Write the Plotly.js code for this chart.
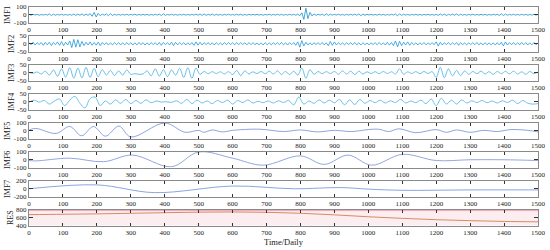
<!DOCTYPE html>
<html>
<head>
<meta charset="utf-8">
<script src="https://cdn.plot.ly/plotly-3.0.1.min.js"></script>
<style>
  html, body { margin: 0; padding: 0; background: #fff; }
  #chart { width: 550px; height: 250px; }
</style>
</head>
<body>
<div id="chart"></div>
<script>
// panel names, top to bottom
const names = ["IMF1", "IMF2", "IMF3", "IMF4", "IMF5", "IMF6", "IMF7", "RES"];

// y tick values per panel
const yTicks = [
  [-100, 0, 100], [-50, 0, 50], [-50, 0, 50], [-50, 0, 50],
  [-100, 0, 100], [-100, 0, 100], [-200, 0, 200], [400, 600, 800]
];

// IMF1, sampled every 6 days
const imf1 = [
  4,-5,6,-3,5,-6,3,-4,5,-5,
  12,-10,8,-6,5,-4,6,-5,4,-6,
  5,-7,10,-9,8,-6,12,-10,9,-8,
  15,-20,30,-28,18,-12,8,-6,10,-12,
  14,-10,6,-5,4,-6,5,-4,6,-5,
  5,-4,6,-5,4,-5,6,-4,5,-6,
  4,-5,6,-4,8,-10,12,-8,5,-4,
  6,-5,4,-6,5,-4,6,-5,4,-5,
  6,-5,8,-7,10,-9,12,-8,6,-5,
  10,-8,6,-5,4,-6,5,-4,6,-5,
  4,-5,6,-4,5,-6,4,-5,6,-4,
  5,-4,6,-5,4,-6,5,-4,6,-5,
  4,-5,6,-4,5,-6,4,-5,6,-4,
  5,-6,8,-12,25,-60,85,-50,30,-15,
  10,-8,6,-5,8,-10,12,-8,6,-5,
  5,-4,6,-5,4,-6,5,-4,6,-5,
  8,-6,10,-12,8,-6,5,-4,6,-5,
  4,-5,6,-4,5,-6,4,-5,6,-4,
  10,-15,12,-8,6,-5,4,-6,5,-4,
  6,-5,4,-6,5,-4,6,-5,4,-6,
  5,-8,10,-6,8,-10,6,-5,8,-6,
  10,-8,6,-5,4,-6,5,-4,6,-5,
  4,-5,6,-4,5,-6,4,-5,6,-4,
  6,-8,12,-10,8,-6,5,-4,6,-5,
  4,-5,6,-4,5,-6,4,-5,6,-4,
  3
];

// IMF2, sampled every 6 days
const imf2 = [
  8,-6,10,-8,6,-5,8,-10,9,-7,
  10,-12,8,-6,12,-10,14,-12,10,-8,
  18,-25,28,-22,26,-20,15,-12,10,-8,
  12,-10,8,-9,10,-12,8,-6,7,-8,
  6,-7,8,-6,7,-8,6,-7,8,-6,
  7,-8,6,-7,8,-6,7,-8,6,-7,
  8,-6,7,-8,9,-10,8,-6,7,-8,
  10,-12,9,-7,8,-6,7,-8,6,-7,
  8,-10,12,-9,10,-8,7,-6,8,-7,
  6,-8,7,-6,5,-7,8,-6,7,-5,
  6,-7,8,-6,7,-5,6,-7,8,-6,
  7,-6,5,-7,6,-8,7,-6,5,-7,
  6,-5,7,-6,8,-7,6,-8,7,-6,
  8,-10,12,-22,20,-14,10,-8,6,-7,
  6,-5,7,-6,8,-7,6,-12,15,-10,
  12,-8,7,-6,5,-7,6,-5,7,-6,
  8,-7,6,-8,7,-6,5,-7,6,-5,
  7,-6,8,-7,6,-8,10,-9,8,-12,
  18,-20,16,-12,10,-8,12,-10,8,-7,
  6,-8,7,-6,8,-7,6,-5,7,-6,
  12,-15,10,-8,7,-6,8,-7,6,-5,
  8,-10,7,-6,5,-7,6,-5,7,-6,
  8,-7,6,-8,7,-6,5,-7,6,-8,
  7,-8,10,-14,12,-8,7,-6,8,-7,
  6,-7,8,-6,7,-8,6,-7,8,-6,
  4
];

// IMF3, extrema every 12 days
const imf3 = [
  2,-3,5,-8,10,-15,18,-22,25,-28,
  32,-35,30,-33,35,-30,28,-25,20,-15,
  15,-18,12,-15,18,-10,-6,-10,-8,12,
  -20,25,-22,20,-25,18,-15,28,-30,32,
  -35,30,-10,8,-6,7,-5,6,-8,7,
  -12,15,-18,12,-8,6,-5,8,-6,10,
  -8,12,-10,8,-12,10,-15,30,-35,20,
  -10,8,-6,7,-5,8,-10,12,-8,10,
  -12,10,-8,6,-5,7,-6,8,-5,6,
  -8,25,-10,6,-5,7,-6,8,-5,7,
  -30,35,-32,25,-20,15,-18,12,-10,8,
  -6,10,-8,7,-10,8,-6,9,-7,10,
  -8,6,-10,8,-6,4
];

// IMF4, every 15 days
const imf4 = [
  -3,10,-2,8,-15,5,18,-25,10,35,
  -10,-40,20,30,-25,5,-15,12,-10,15,
  -12,8,-10,12,-6,5,-2,0,-4,6,
  -10,15,-12,10,-8,5,-12,8,-5,10,
  -15,8,-5,12,-8,3,-6,5,-8,6,
  -5,8,-20,30,-15,5,-10,12,-8,10,
  -6,15,-20,12,-18,15,-10,8,-6,10,
  -8,6,-5,15,-8,5,-6,10,-12,18,
  -25,22,-15,10,-15,12,-8,6,-5,8,
  -6,5,-8,6,-5,10,-12,8,-10,-15,
  -12
];

// IMF5 turning points
const imf5X = [0,20,80,120,155,190,225,265,300,400,460,500,515,540,570,600,680,750,800,850,900,950,1000,1030,1060,1090,1140,1200,1230,1260,1300,1340,1380,1420,1470,1500];
const imf5Y = [10,30,-35,55,-65,55,-70,60,-80,100,-20,5,-20,10,-15,5,20,-10,10,-15,5,-10,15,20,-10,25,-25,15,-20,10,-20,5,-10,15,5,-15];

// IMF6 turning points
const imf6X = [0,20,120,220,305,420,500,600,690,800,870,940,1010,1100,1200,1300,1400,1500];
const imf6Y = [-10,-15,20,-25,60,-90,100,20,-70,50,-60,60,-70,70,-10,0,0,-10];

// IMF7 turning points
const imf7X = [0,200,370,600,780,920,1000,1100,1300,1500];
const imf7Y = [0,100,-100,70,0,30,-10,-40,-30,-30];

// residual trend
const resX = [0,100,200,300,400,500,600,700,800,900,1000,1100,1200,1300,1400,1500];
const resY = [680,690,700,715,730,745,750,740,715,675,625,585,550,525,505,495];
const resTop = [785,785];

const colors = ["#1b8fcf", "#2199d8", "#45b1e2", "#4ab3e2", "#6f8fd9", "#7890d4", "#6c8fd9", "#c9743f"];
const font = "Liberation Serif, Times New Roman, serif";

const traces = [
  {y: imf1, x0: 0, dx: 6},
  {y: imf2, x0: 0, dx: 6},
  {y: imf3, x0: 0, dx: 12, line: {shape: "spline"}},
  {y: imf4, x0: 0, dx: 15, line: {shape: "spline"}},
  {x: imf5X, y: imf5Y, line: {shape: "spline"}},
  {x: imf6X, y: imf6Y, line: {shape: "spline"}},
  {x: imf7X, y: imf7Y, line: {shape: "spline"}},
  {x: resX, y: resY, line: {shape: "spline"}}
].map((t, i) => Object.assign({
  type: "scatter", mode: "lines", showlegend: false, hoverinfo: "skip",
  xaxis: "x" + (i + 1), yaxis: "y" + (i + 1)
}, t, {line: Object.assign({color: colors[i], width: 0.8}, t.line || {})}));

traces.push({
  type: "scatter", mode: "lines", x: [0, 1500], y: resTop,
  xaxis: "x8", yaxis: "y8", showlegend: false, hoverinfo: "skip",
  line: {color: "#f2a7b8", width: 1}
});

const layout = {
  width: 550, height: 250,
  margin: {l: 29, r: 12, t: 7, b: 24},
  paper_bgcolor: "#fff", plot_bgcolor: "rgba(0,0,0,0)",
  font: {family: font, size: 7, color: "#222"},
  shapes: [{
    type: "rect", xref: "x8 domain", yref: "y8 domain",
    x0: 0, x1: 1, y0: 0, y1: 1, layer: "below",
    fillcolor: "#fcedf1", line: {width: 0}
  }]
};

const plotH = 250 - 7 - 24;
names.forEach((name, i) => {
  const top = 1 - (29 * i) / plotH;
  const bottom = top - 15.5 / plotH;
  layout["xaxis" + (i + 1)] = {
    anchor: "y" + (i + 1), domain: [0, 1], range: [0, 1500],
    tick0: 0, dtick: 100, ticks: "inside", ticklen: 3, tickcolor: "#333",
    mirror: "ticks", showline: true, linecolor: "#8a8a8a", linewidth: 1,
    showgrid: false, zeroline: false,
    tickfont: {family: font, size: 7, color: "#222"},
    title: i === 7 ? {text: "Time/Daily", font: {family: font, size: 8.5, color: "#222"}, standoff: 3} : {text: ""}
  };
  const yt = yTicks[i];
  layout["yaxis" + (i + 1)] = {
    anchor: "x" + (i + 1), domain: [bottom, top],
    range: [yt[0], yt[2]], tickvals: yt, ticktext: yt.map(String),
    ticks: "inside", ticklen: 4, tickcolor: "#333",
    mirror: "ticks", showline: true, linecolor: "#8a8a8a", linewidth: 1,
    showgrid: false, zeroline: false,
    tickfont: {family: font, size: 7, color: "#222"},
    title: {text: name, font: {family: font, size: 8, color: "#222"}, standoff: 1}
  };
});

Plotly.newPlot("chart", traces, layout, {staticPlot: true, displayModeBar: false});
</script>
</body>
</html>
